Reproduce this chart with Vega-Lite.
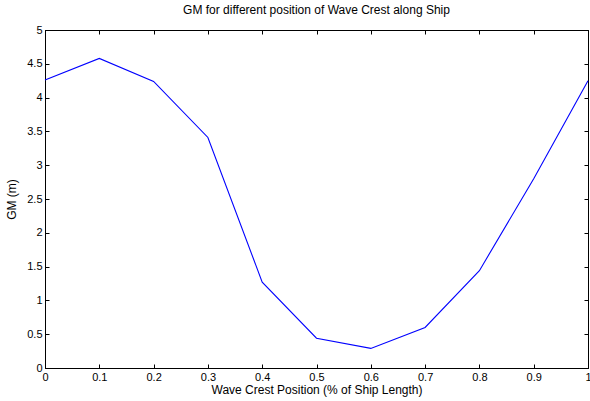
{
  "$schema": "https://vega.github.io/schema/vega-lite/v6.json",
  "width": 543,
  "height": 338,
  "autosize": {"type": "none"},
  "padding": {"left": 45, "top": 30, "right": 2, "bottom": 33},
  "background": "white",
  "title": {"text": "GM for different position of Wave Crest along Ship", "font": "Liberation Sans", "fontSize": 12, "fontWeight": "normal", "color": "black", "offset": 7, "anchor": "middle"},
  "config": {
    "view": {"stroke": "black", "strokeWidth": 1},
    "axis": {"domain": true, "domainColor": "black", "tickColor": "black", "labelColor": "black", "labelFont": "Liberation Sans", "labelFontSize": 11, "titleFont": "Liberation Sans", "titleFontSize": 12, "titleFontWeight": "normal", "titleColor": "black", "grid": false, "tickSize": -4, "labelPadding": 7, "format": "~g"}
  },
  "data": {"values": [
    {"x": 0.0, "gm": 4.26},
    {"x": 0.1, "gm": 4.58},
    {"x": 0.2, "gm": 4.24},
    {"x": 0.3, "gm": 3.41},
    {"x": 0.4, "gm": 1.27},
    {"x": 0.5, "gm": 0.44},
    {"x": 0.6, "gm": 0.29},
    {"x": 0.7, "gm": 0.60},
    {"x": 0.8, "gm": 1.44},
    {"x": 0.9, "gm": 2.80},
    {"x": 1.0, "gm": 4.25}
  ]},
  "layer": [
    {
      "mark": {"type": "line", "color": "#0000ff", "strokeWidth": 1.1},
      "encoding": {
        "x": {"field": "x", "type": "quantitative", "scale": {"domain": [0, 1], "nice": false}, "axis": {"orient": "bottom", "title": "Wave Crest Position (% of Ship Length)", "values": [0, 0.1, 0.2, 0.3, 0.4, 0.5, 0.6, 0.7, 0.8, 0.9, 1], "labelFlush": false, "titlePadding": 2, "format": "~g"}},
        "y": {"field": "gm", "type": "quantitative", "scale": {"domain": [0, 5], "nice": false}, "axis": {"orient": "left", "title": "GM (m)", "values": [0, 0.5, 1, 1.5, 2, 2.5, 3, 3.5, 4, 4.5, 5], "labelFlush": false, "titlePadding": 8, "format": "~g"}}
      }
    },
    {
      "mark": {"type": "line", "opacity": 0},
      "encoding": {
        "x": {"field": "x", "type": "quantitative", "scale": {"domain": [0, 1], "nice": false}, "axis": {"orient": "top", "title": null, "labels": false, "values": [0, 0.1, 0.2, 0.3, 0.4, 0.5, 0.6, 0.7, 0.8, 0.9, 1]}},
        "y": {"field": "gm", "type": "quantitative", "scale": {"domain": [0, 5], "nice": false}, "axis": {"orient": "right", "title": null, "labels": false, "values": [0, 0.5, 1, 1.5, 2, 2.5, 3, 3.5, 4, 4.5, 5]}}
      }
    }
  ],
  "resolve": {"axis": {"x": "independent", "y": "independent"}}
}
